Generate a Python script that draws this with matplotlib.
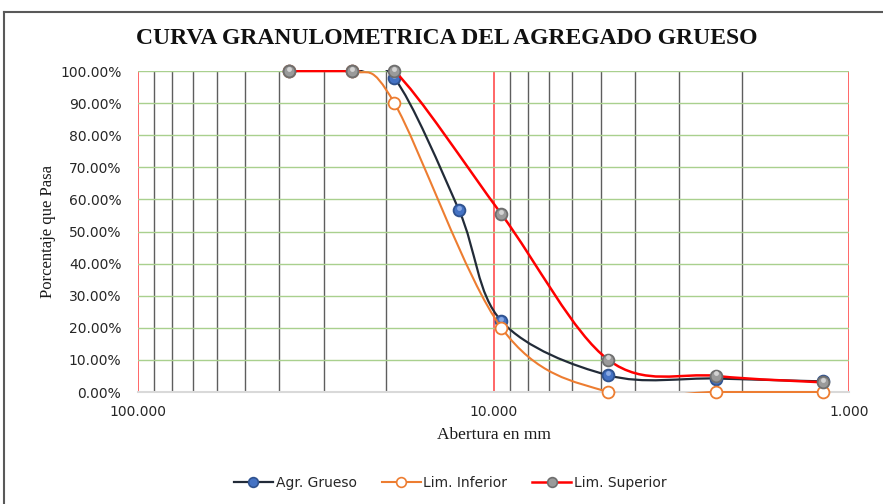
"""
Curva granulometrica del agregado grueso (Excel-style smooth lines on a reversed log axis)
"""

import numpy as np
import matplotlib
matplotlib.use("Agg")
import matplotlib.pyplot as plt
from matplotlib.path import Path
from matplotlib.patches import PathPatch
from matplotlib.lines import Line2D
from matplotlib.ticker import FixedLocator, FuncFormatter, NullFormatter, PercentFormatter
from matplotlib.transforms import Bbox, TransformedBbox, ScaledTranslation

# data (sieve opening in mm, fraction passing)
abertura = [37.5, 25.0, 19.0, 12.5, 9.5, 4.75, 2.36, 1.18]
agr_grueso = [1.00, 1.00, 0.978, 0.566, 0.221, 0.052, 0.042, 0.033]

abertura_lim = [37.5, 25.0, 19.0, 9.5, 4.75, 2.36, 1.18]
lim_inferior = [1.00, 1.00, 0.90, 0.20, 0.00, 0.00, 0.00]
lim_superior = [1.00, 1.00, 1.00, 0.554, 0.10, 0.05, 0.030]

x_major = [100, 10, 1]
x_minor = [90, 80, 70, 60, 50, 40, 30, 20, 9, 8, 7, 6, 5, 4, 3, 2]
y_ticks = np.arange(0, 1.01, 0.1)


def smooth_path(xs, ys):
    # Catmull-Rom style bezier (tension 1/6) in log10(x), like Excel smoothed lines
    u = np.log10(xs)
    v = np.asarray(ys, dtype=float)
    n = len(u)
    verts = [(xs[0], v[0])]
    codes = [Path.MOVETO]
    for i in range(n - 1):
        i0 = max(i - 1, 0)
        i3 = min(i + 2, n - 1)
        c1u = u[i] + (u[i + 1] - u[i0]) / 6
        c1v = v[i] + (v[i + 1] - v[i0]) / 6
        c2u = u[i + 1] - (u[i3] - u[i]) / 6
        c2v = v[i + 1] - (v[i3] - v[i]) / 6
        verts += [(10 ** c1u, c1v), (10 ** c2u, c2v), (xs[i + 1], v[i + 1])]
        codes += [Path.CURVE4] * 3
    return Path(verts, codes)


fig = plt.figure(figsize=(8.83, 5.04), dpi=100)
ax = fig.add_axes([0.1563, 0.2222, 0.8052, 0.6369])

ax.set_xscale("log")
ax.set_xlim(100, 1)
ax.set_ylim(0, 1)

ax.xaxis.set_major_locator(FixedLocator(x_major))
ax.xaxis.set_minor_locator(FixedLocator(x_minor))
ax.xaxis.set_major_formatter(FuncFormatter(lambda v, p: "{:.3f}".format(v)))
ax.xaxis.set_minor_formatter(NullFormatter())
ax.set_yticks(y_ticks)
ax.yaxis.set_major_formatter(PercentFormatter(1, decimals=2))

ax.grid(which="major", axis="y", color="#A9D08E", lw=1.0)
ax.grid(which="minor", axis="x", color="#5E5E5E", lw=1.0)
ax.grid(which="major", axis="x", color="#FF4D4D", lw=1.2)
ax.set_axisbelow(True)

for s in ["top", "right", "left"]:
    ax.spines[s].set_visible(False)
ax.spines["bottom"].set_color("#D9D9D9")
ax.spines["bottom"].set_linewidth(1.5)

ax.tick_params(which="both", length=0)
ax.tick_params(axis="y", pad=12, labelsize=10, labelcolor="#262626")
ax.tick_params(axis="x", pad=9, labelsize=10, labelcolor="#262626")

# plot-area clip (Excel hides the overshoot of smoothed curves)
clip = TransformedBbox(Bbox([[-0.01, -0.003], [1.01, 1.004]]), ax.transAxes)
lift = ScaledTranslation(0, 1.8 / 72, fig.dpi_scale_trans)

series = [
    (abertura, agr_grueso, "#222B38", 1.6, "#4472C4", "#2F528F", "#9DB9EC", "Agr. Grueso"),
    (abertura_lim, lim_inferior, "#ED7D31", 1.5, "white", "#ED7D31", None, "Lim. Inferior"),
    (abertura_lim, lim_superior, "#FF0000", 1.8, "#9A9A9A", "#6E6E6E", "#E2E2E2", "Lim. Superior"),
]

handles = []
for z, (xs, ys, lc, lw, fc, ec, hc, name) in enumerate(series):
    patch = PathPatch(smooth_path(xs, ys), fill=False, edgecolor=lc, lw=lw,
                      zorder=3 + 3 * z, capstyle="round", joinstyle="round")
    ax.add_patch(patch)
    patch.set_clip_box(clip)
    ax.plot(xs, ys, ls="none", marker="o", ms=8.5, mfc=fc, mec=ec, mew=1.3,
            zorder=4 + 3 * z, clip_on=False)
    if hc:
        # small highlight to mimic the glossy Excel markers
        ax.plot(xs, ys, ls="none", marker="o", ms=3.5, mfc=hc, mec="none",
                alpha=0.8, zorder=5 + 3 * z, clip_on=False,
                transform=ax.transData + lift)
    handles.append(Line2D([], [], color=lc, lw=lw, marker="o", ms=7, mfc=fc,
                          mec=ec, mew=1.2, label=name))

ax.set_xlabel("Abertura en mm", family="Liberation Serif", fontsize=12.5,
              labelpad=6, color="#1A1A1A")
ax.set_ylabel("Porcentaje que Pasa", family="Liberation Serif", fontsize=12,
              labelpad=3, color="#1A1A1A")

fig.text(0.506, 0.924, "CURVA GRANULOMETRICA DEL AGREGADO GRUESO",
         family="Liberation Serif", fontweight="bold", fontsize=17,
         ha="center", va="center", color="#111111")

fig.legend(handles=handles, loc="center", bbox_to_anchor=(0.51, 0.042),
           ncol=3, frameon=False, fontsize=10, handlelength=2.8,
           handletextpad=0.2, columnspacing=1.8, labelcolor="#262626")

# chart border (left and top visible in the capture)
fig.add_artist(Line2D([0.005, 0.005], [0, 0.977], color="#595959", lw=1.5,
                      transform=fig.transFigure))
fig.add_artist(Line2D([0.005, 1.0], [0.977, 0.977], color="#595959", lw=1.5,
                      transform=fig.transFigure))

fig.savefig("out.png", dpi=100)
